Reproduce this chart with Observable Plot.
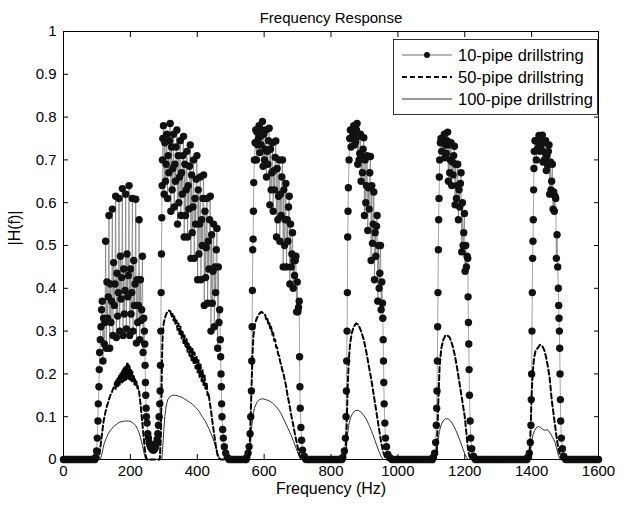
<!DOCTYPE html>
<html><head><meta charset="utf-8">
<script src="https://cdn.jsdelivr.net/npm/d3@7"></script>
<script src="https://cdn.jsdelivr.net/npm/@observablehq/plot@0.6"></script>
<style>
body{margin:0;background:#fff;}
#wrap{position:relative;width:626px;height:514px;font-family:"Liberation Sans",Arial,sans-serif;}
#legend{position:absolute;left:393px;top:39px;}
</style></head><body><div id="wrap"></div>
<script>
const title = "Frequency Response";
const xLabel = "Frequency (Hz)";
const yLabel = "|H(f)|";
const xTicks = [0, 200, 400, 600, 800, 1000, 1200, 1400, 1600];
const yTicks = [0, 0.1, 0.2, 0.3, 0.4, 0.5, 0.6, 0.7, 0.8, 0.9, 1];
const seriesNames = ["10-pipe drillstring", "50-pipe drillstring", "100-pipe drillstring"];

// ---- 10-pipe drillstring ----
// band edges as [frequency Hz, |H(f)|]; band cores as values sampled every coreStep Hz from start
const coreStep = 2;
const pipe10Edges = [
 [96,0.005],[99,0.02],[101,0.05],[103,0.09],[104,0.13],[106,0.17],[107,0.21],[108,0.25],[110,0.28],[112,0.31],[114,0.35],
 [242,0.30],[243,0.27],[244,0.22],[245,0.18],[246,0.15],[247,0.12],[248,0.10],[250,0.085],[252,0.06],[254,0.05],[256,0.04],[258,0.035],
 [260,0.03],[262,0.028],[264,0.025],[266,0.023],[268,0.022],[270,0.022],[272,0.024],[274,0.027],[276,0.032],[278,0.038],[280,0.047],
 [282,0.06],[284,0.08],[286,0.1],[288,0.13],[289,0.16],[290,0.22],[291,0.30],[292,0.39],[293,0.48],[294,0.565],[295,0.64],[296,0.70],[297,0.75],
 [469,0.28],[470,0.24],[471,0.2],[472,0.17],[473,0.13],[474,0.1],[476,0.07],[478,0.05],[481,0.03],[485,0.015],[490,0.005],
 [548,0.005],[552,0.015],[555,0.03],[558,0.06],[560,0.1],[562,0.16],[563,0.23],[564,0.31],[565,0.395],[566,0.49],[567,0.515],[568,0.58],
 [569,0.647],[571,0.70],[573,0.74],
 [706,0.24],[707,0.17],[708,0.12],[710,0.075],[712,0.045],[715,0.022],[720,0.008],
 [835,0.005],[840,0.02],[843,0.05],[845,0.1],[846,0.16],[847,0.23],[848,0.30],[849,0.39],[850,0.52],[851,0.58],[852,0.635],[854,0.70],[856,0.75],
 [955,0.33],[956,0.28],[957,0.23],[958,0.18],[959,0.13],[961,0.085],[963,0.05],[966,0.03],[970,0.012],[976,0.004],
 [1105,0.005],[1110,0.015],[1113,0.04],[1115,0.08],[1116,0.12],[1117,0.16],[1118,0.23],[1119,0.31],[1120,0.39],[1121,0.49],[1122,0.56],
 [1123,0.61],[1124,0.66],[1125,0.70],[1127,0.74],
 [1210,0.38],[1211,0.32],[1212,0.27],[1213,0.21],[1214,0.15],[1216,0.09],[1218,0.05],[1221,0.025],[1226,0.008],
 [1388,0.005],[1393,0.015],[1396,0.04],[1398,0.08],[1399,0.14],[1400,0.2],[1401,0.30],[1402,0.39],[1403,0.47],[1404,0.51],[1405,0.56],
 [1406,0.63],[1407,0.68],[1408,0.72],[1410,0.745],
 [1480,0.40],[1481,0.36],[1482,0.33],[1483,0.30],[1484,0.26],[1485,0.2],[1486,0.14],[1487,0.09],[1489,0.05],[1492,0.025],[1496,0.008]];
const pipe10Band1 = {start: 116, h: [.37,.23,.33,.27,.32,.51,.26,.415,.33,.38,.57,.26,.41,.32,.37,.585,.29,.46,.36,.41,
 .615,.285,.435,.335,.39,.61,.30,.475,.375,.425,.633,.29,.445,.34,.395,.62,.305,.48,.38,.43,
 .64,.29,.445,.34,.39,.61,.30,.465,.36,.41,.608,.272,.42,.32,.36,.56,.28,.42,.325,.35,.475,.25,.33]};
const pipe10Band2 = {start: 299, h: [.78,.62,.74,.65,.69,.76,.61,.71,.67,.745,.785,.58,.73,.63,.68,.76,.59,.69,.65,.73,
 .77,.55,.71,.60,.66,.745,.57,.67,.62,.71,.755,.52,.69,.57,.63,.72,.52,.64,.585,.685,
 .735,.47,.665,.53,.59,.70,.47,.61,.55,.655,.71,.42,.63,.48,.55,.66,.42,.56,.50,.61,
 .665,.36,.58,.425,.495,.61,.365,.51,.445,.56,.615,.30,.525,.365,.44,.55,.31,.45,.39,.49,
 .54,.26,.45,.32,.35]};
const pipe10Band3 = {start: 575, h: [.77,.70,.765,.735,.75,.78,.717,.755,.735,.77,.79,.685,.76,.70,.725,.77,.66,.72,.69,.745,
 .774,.595,.725,.63,.67,.74,.58,.675,.63,.706,.744,.52,.68,.56,.615,.70,.51,.62,.57,.66,
 .70,.45,.63,.50,.56,.645,.45,.56,.51,.59,.615,.41,.55,.45,.48,.53,.40,.465,.43,.465,
 .475,.345,.415,.345,.355,.37]};
const pipe10Band4 = {start: 858, h: [.77,.73,.77,.75,.76,.78,.735,.76,.742,.77,.785,.69,.755,.70,.715,.76,.65,.71,.67,.725,
 .752,.57,.70,.60,.64,.71,.535,.635,.585,.67,.708,.465,.64,.505,.55,.625,.42,.53,.475,.545,
 .57,.37,.50,.40,.435,.50,.35,.415,.365]};
const pipe10Band5 = {start: 1129, h: [.75,.72,.75,.74,.742,.76,.705,.735,.715,.745,.765,.65,.735,.67,.70,.74,.64,.695,.665,.71,
 .732,.595,.69,.61,.64,.69,.56,.63,.59,.645,.67,.485,.60,.50,.53,.575,.44,.50,.45,.475,.47]};
const pipe10Band6 = {start: 1412, h: [.745,.70,.745,.726,.74,.757,.72,.74,.727,.746,.758,.695,.74,.70,.717,.745,.675,.71,.687,.72,
 .735,.62,.695,.63,.65,.69,.585,.625,.58,.615,.61,.47,.525,.45]};
// stopbands where the 10-pipe response reads as 0: [from, to] Hz
const pipe10Stopbands = [[0,94],[495,546],[725,833],[982,1103],[1232,1386],[1502,1600]];
const stopSampleStep = 5;

// ---- 50-pipe drillstring ----
const pipe50Points = [[0,0],[104,0],[108,0.015],[112,0.04],[116,0.065],[120,0.09],[124,0.105],[128,0.12],[132,0.13],[136,0.14],[140,0.15],[144,0.155],
 [148,0.165],[152,0.17],[154,0.18],[156,0.165],[158,0.185],[160,0.17],[162,0.19],[164,0.172],[166,0.195],[168,0.175],[170,0.2],[172,0.178],
 [174,0.205],[176,0.18],[178,0.21],[180,0.183],[182,0.215],[184,0.185],[186,0.22],[188,0.187],[190,0.225],[192,0.19],[194,0.222],[196,0.188],
 [198,0.218],[200,0.186],[202,0.212],[204,0.183],[206,0.205],[208,0.18],[210,0.198],[212,0.176],[214,0.19],[216,0.172],[218,0.182],[220,0.168],
 [222,0.172],[224,0.16],[226,0.16],[228,0.145],[231,0.125],[234,0.1],[237,0.075],[240,0.05],[243,0.025],[246,0.008],[250,0],
 [288,0],[291,0.05],[293,0.15],[295,0.25],[297,0.30],[300,0.32],[305,0.335],[310,0.345],[316,0.348],
 [320,0.345],[323,0.333],[326,0.34],[329,0.325],[332,0.335],[335,0.315],[338,0.325],[341,0.303],[344,0.318],[347,0.293],[350,0.31],
 [353,0.283],[356,0.30],[359,0.272],[362,0.29],[365,0.262],[368,0.282],[371,0.252],[374,0.274],[377,0.242],[380,0.266],[383,0.232],
 [386,0.258],[389,0.223],[392,0.25],[395,0.213],[398,0.242],[401,0.203],[404,0.232],[407,0.193],[410,0.222],[413,0.183],[416,0.21],
 [419,0.172],[422,0.196],[425,0.162],[428,0.18],[431,0.15],[434,0.155],[437,0.135],[441,0.115],[445,0.09],[449,0.068],[453,0.045],
 [457,0.025],[461,0.01],[465,0.003],[470,0],
 [552,0],[556,0.02],[559,0.08],[562,0.16],[565,0.24],[568,0.29],[572,0.315],[578,0.33],[585,0.34],[592,0.345],[600,0.34],
 [603,0.338],[606,0.328],[609,0.332],[612,0.318],[615,0.322],[618,0.305],[621,0.31],[624,0.292],[627,0.296],[630,0.278],[633,0.28],
 [636,0.262],[639,0.262],[642,0.245],[645,0.243],[648,0.228],[651,0.222],[654,0.21],[658,0.2],[662,0.185],[666,0.17],[670,0.15],
 [674,0.135],[678,0.118],[682,0.1],[686,0.085],[690,0.068],[694,0.052],[698,0.038],[702,0.022],[706,0.01],[710,0.003],[714,0],
 [840,0],[844,0.02],[847,0.08],[850,0.17],[853,0.23],[857,0.27],[862,0.295],[868,0.31],[875,0.318],[882,0.315],[890,0.30],[898,0.28],
 [906,0.25],[914,0.215],[922,0.18],[930,0.14],[937,0.105],[944,0.07],[950,0.04],[956,0.018],[962,0.005],[968,0],
 [1112,0],[1116,0.02],[1119,0.08],[1122,0.16],[1125,0.22],[1130,0.26],[1136,0.28],[1142,0.29],[1148,0.29],[1155,0.285],[1162,0.27],
 [1170,0.245],[1178,0.21],[1186,0.17],[1193,0.135],[1200,0.1],[1205,0.06],[1209,0.03],[1213,0.01],[1218,0],
 [1390,0],[1394,0.02],[1397,0.07],[1400,0.15],[1403,0.2],[1407,0.235],[1412,0.255],[1418,0.26],[1425,0.268],[1432,0.265],[1438,0.255],
 [1443,0.24],[1448,0.22],[1454,0.19],[1460,0.14],[1465,0.11],[1470,0.08],[1475,0.05],[1480,0.025],[1485,0.01],[1490,0],[1600,0]];

// ---- 100-pipe drillstring ----
const pipe100Points = [[0,0],[110,0],[114,0.01],[118,0.025],[122,0.038],[128,0.05],[135,0.062],[145,0.073],[155,0.08],[165,0.086],[175,0.089],
 [185,0.09],[195,0.09],[205,0.087],[215,0.08],[222,0.07],[228,0.057],[233,0.043],[237,0.03],[240,0.018],[243,0.008],[246,0],
 [294,0],[297,0.03],[300,0.07],[303,0.1],[307,0.125],[312,0.14],[318,0.147],[326,0.15],[335,0.15],[345,0.148],[355,0.145],[365,0.14],
 [375,0.135],[385,0.13],[395,0.122],[405,0.113],[415,0.1],[425,0.088],[435,0.072],[443,0.057],[450,0.042],[456,0.027],[461,0.014],[466,0.004],[470,0],
 [556,0],[559,0.03],[562,0.07],[566,0.1],[571,0.12],[578,0.133],[586,0.14],[595,0.142],[605,0.14],[615,0.137],[625,0.132],[638,0.122],
 [650,0.108],[660,0.092],[670,0.075],[680,0.058],[688,0.042],[695,0.028],[701,0.015],[706,0.005],[710,0],
 [843,0],[846,0.025],[849,0.055],[853,0.08],[858,0.097],[865,0.108],[872,0.114],[880,0.115],[888,0.112],[896,0.105],[905,0.095],
 [914,0.08],[922,0.065],[930,0.048],[937,0.032],[944,0.018],[950,0.007],[956,0],
 [1114,0],[1117,0.02],[1120,0.045],[1124,0.065],[1129,0.08],[1135,0.09],[1142,0.095],[1150,0.095],[1158,0.09],[1166,0.08],[1174,0.067],
 [1182,0.052],[1189,0.037],[1195,0.024],[1201,0.012],[1206,0.004],[1210,0],
 [1394,0],[1397,0.02],[1400,0.04],[1404,0.058],[1409,0.068],[1415,0.075],[1421,0.077],[1427,0.075],[1433,0.07],[1440,0.068],[1446,0.07],
 [1452,0.066],[1458,0.058],[1464,0.05],[1470,0.04],[1475,0.025],[1480,0.01],[1485,0],[1600,0]];

// ---- build tables ----
const stopRows = pipe10Stopbands.flatMap(([a, b]) => {
  const fs = d3.range(a, b, stopSampleStep); fs.push(b);
  return fs.map(f => [f, 0]);
});
const coreRows = [pipe10Band1, pipe10Band2, pipe10Band3, pipe10Band4, pipe10Band5, pipe10Band6]
  .flatMap(b => b.h.map((h, i) => [b.start + i * coreStep, h]));
const pipe10 = [...stopRows, ...pipe10Edges, ...coreRows]
  .map(([f, h]) => ({f, h}))
  .sort((p, q) => p.f - q.f);
const pipe50 = pipe50Points.map(([f, h]) => ({f, h}));
const pipe100 = pipe100Points.map(([f, h]) => ({f, h}));

const font = '"Liberation Sans", Arial, sans-serif';
const chart = Plot.plot({
  width: 626, height: 514,
  marginTop: 31, marginBottom: 55, marginLeft: 63, marginRight: 28,
  style: {fontFamily: font, fontSize: "15px", background: "white", color: "#000"},
  x: {domain: [0, 1600], label: null},
  y: {domain: [0, 1], label: null},
  marks: [
    Plot.line(pipe10, {x: "f", y: "h", stroke: "#666", strokeWidth: 0.6}),
    Plot.dot(pipe10, {x: "f", y: "h", r: 3.7, fill: "#111", stroke: "none"}),
    Plot.line(pipe50, {x: "f", y: "h", stroke: "#000", strokeWidth: 2, strokeDasharray: "5,3"}),
    Plot.line(pipe100, {x: "f", y: "h", stroke: "#000", strokeWidth: 0.8}),
    Plot.frame({stroke: "#000", strokeWidth: 1}),
    Plot.axisX({anchor: "bottom", ticks: xTicks, tickSize: -5, tickPadding: 11, fontSize: 15, label: null, tickFormat: d => String(d)}),
    Plot.axisX({anchor: "top", ticks: xTicks, tickSize: -5, tickFormat: () => "", label: null}),
    Plot.axisY({anchor: "left", ticks: yTicks, tickSize: -5, tickPadding: 12, fontSize: 15, label: null, tickFormat: d => String(d)}),
    Plot.axisY({anchor: "right", ticks: yTicks, tickSize: -5, tickFormat: () => "", label: null}),
    Plot.text([title], {text: d => d, frameAnchor: "top", dy: -19, fontSize: 15}),
    Plot.text([xLabel], {text: d => d, frameAnchor: "bottom", dy: 34, fontSize: 16}),
    Plot.text([yLabel], {text: d => d, frameAnchor: "left", dx: -49, rotate: -90, fontSize: 16})
  ]
});
const wrap = document.getElementById("wrap");
wrap.appendChild(chart);

// legend
const ns = "http://www.w3.org/2000/svg";
const lg = document.createElementNS(ns, "svg");
lg.setAttribute("id", "legend");
lg.setAttribute("width", 206); lg.setAttribute("height", 77);
const styles = [
  {stroke: "#444", width: 0.8, dash: null, dot: true},
  {stroke: "#000", width: 2, dash: "5,3", dot: false},
  {stroke: "#000", width: 0.8, dash: null, dot: false}
];
let html = '<rect x="0.5" y="0.5" width="204" height="75" fill="white" stroke="#000" stroke-width="0.8"/>';
seriesNames.forEach((name, i) => {
  const y = 16 + i * 22, s = styles[i];
  html += `<line x1="9" x2="59" y1="${y}" y2="${y}" stroke="${s.stroke}" stroke-width="${s.width}" ${s.dash ? `stroke-dasharray="${s.dash}"` : ""}/>`;
  if (s.dot) html += `<circle cx="34" cy="${y}" r="3" fill="#111"/>`;
  html += `<text x="65" y="${y}" dy="0.35em" font-size="16.5" font-family='${font}'>${name}</text>`;
});
lg.innerHTML = html;
wrap.appendChild(lg);
</script></body></html>
